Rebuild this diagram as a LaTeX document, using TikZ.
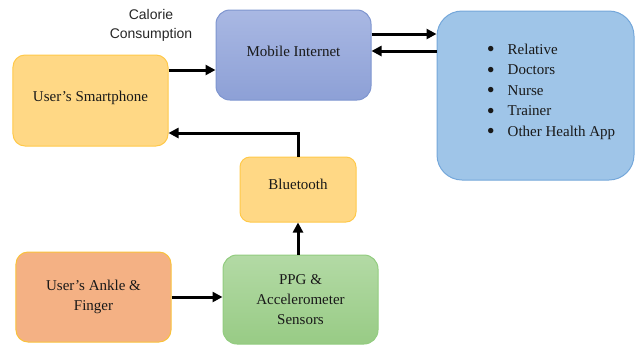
\documentclass[tikz,border=0pt]{standalone}
\usepackage{fontspec}
\usepackage{graphicx}
\setmainfont{Liberation Serif}
\newfontfamily\arialf{Liberation Sans}
\usetikzlibrary{arrows.meta,shapes.geometric}
\definecolor{phoneFill}{HTML}{FFD885}
\definecolor{phoneLine}{HTML}{FFC94A}
\definecolor{mobTop}{HTML}{A9B8E3}
\definecolor{mobBot}{HTML}{8DA0D6}
\definecolor{mobLine}{HTML}{7E95CF}
\definecolor{listFill}{HTML}{9FC5E8}
\definecolor{listLine}{HTML}{74A7DA}
\definecolor{ankFill}{HTML}{F4B184}
\definecolor{ankLine}{HTML}{F9C23C}
\definecolor{ppgTop}{HTML}{B3DAA5}
\definecolor{ppgBot}{HTML}{98CB85}
\definecolor{ppgLine}{HTML}{92CC7F}
\newcommand\bigbul{\raisebox{-2.5bp}{\scalebox{1.5}{\textbullet}}}
\newcommand\lift[2]{\raisebox{#1}[\height][\depth]{#2}}
\tikzset{
  box/.style={draw, line width=1bp, align=center, inner sep=2bp,
    font=\fontsize{15bp}{20bp}\selectfont, text=black!90},
  arr/.style={line width=3bp, -{Triangle[length=10bp,width=10bp]}},
}
\begin{document}
\begin{tikzpicture}[x=1bp,y=-1bp]
\useasboundingbox (0,0) rectangle (639,346);
\node[box, fill=phoneFill, draw=phoneLine, rounded corners=12bp,
  minimum width=155bp, minimum height=91bp] (phone) at (90.5,100.5) {\lift{3bp}{User’s Smartphone}};
\node[box, top color=mobTop, bottom color=mobBot, draw=mobLine, rounded corners=14bp,
  minimum width=155bp, minimum height=90bp] (mobile) at (293.5,55) {\lift{4bp}{Mobile Internet}};
\node[box, fill=listFill, draw=listLine, rounded corners=25bp,
  minimum width=197bp, minimum height=169bp] (list) at (535.5,95.5) {};
\node[font=\fontsize{15bp}{20.5bp}\selectfont, text=black!90, inner sep=0pt] (listtext) at (551,91)
  {\begin{tabular}{@{}l@{\hspace{13bp}}l@{}}
   \bigbul & Relative\\
   \bigbul & Doctors\\
   \bigbul & Nurse\\
   \bigbul & Trainer\\
   \bigbul & Other Health App
   \end{tabular}};
\node[box, fill=phoneFill, draw=phoneLine, rounded corners=10bp,
  minimum width=116bp, minimum height=65bp] (bt) at (298,189.5) {\lift{5bp}{Bluetooth}};
\node[box, fill=ankFill, draw=ankLine, rounded corners=12bp,
  minimum width=155bp, minimum height=90bp] (ankle) at (93.5,297) {User’s Ankle \&\\Finger};
\node[box, top color=ppgTop, bottom color=ppgBot, draw=ppgLine, rounded corners=14bp,
  minimum width=155bp, minimum height=89bp] (ppg) at (300.5,299.5) {PPG \&\\Accelerometer\\Sensors};
\node[font=\arialf\fontsize{14bp}{19bp}\selectfont, align=center, text=black!85] (cal) at (151,25.5)
  {Calorie\\Consumption};
% connectors
\draw[arr] (phone.east |- 0,70) -- (mobile.west |- 0,70);
\draw[arr] (mobile.east |- 0,34) -- (list.west |- 0,34);
\draw[arr] (list.west |- 0,51) -- (mobile.east |- 0,51);
\draw[arr] (bt.north) |- (phone.east |- 0,133);
\draw[arr] (ppg.north -| bt.south) -- (bt.south);
\draw[arr] (ankle.east) -- (ppg.west |- ankle.east);
\end{tikzpicture}
\end{document}
